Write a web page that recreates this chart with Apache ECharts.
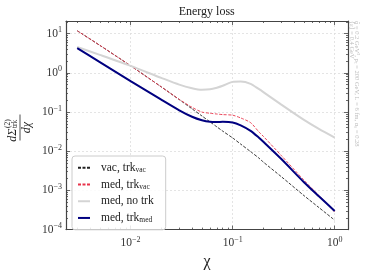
<!DOCTYPE html>
<html><head><meta charset="utf-8">
<script src="https://cdn.jsdelivr.net/npm/echarts@6/dist/echarts.min.js"></script>
<style>html,body{margin:0;padding:0;background:#fff}#c{width:374px;height:275px}</style>
</head><body><div id="c"></div>
<script>
// ---- data ----
const chi        = [0.003, 0.005, 0.01, 0.02, 0.03, 0.04, 0.05, 0.06, 0.07, 0.08, 0.1, 0.12, 0.15, 0.18, 0.2, 0.3, 0.5, 0.7, 1.0];
const vacTrkVac  = [11.9, 5.04, 1.52, 0.439, 0.208, 0.121, 0.0796, 0.0562, 0.042, 0.0326, 0.0219, 0.0152, 0.00977, 0.00676, 0.00528, 0.00224, 0.000738, 0.000366, 0.000174];
const medTrkVac  = [11.9, 5.04, 1.52, 0.439, 0.211, 0.132, 0.100, 0.0933, 0.0891, 0.0861, 0.0832, 0.0708, 0.0537, 0.0316, 0.024, 0.00776, 0.00182, 0.000741, 0.000282];
const medNoTrk   = [4.57, 2.88, 1.51, 0.746, 0.501, 0.407, 0.372, 0.380, 0.417, 0.468, 0.589, 0.603, 0.525, 0.389, 0.324, 0.155, 0.0631, 0.0372, 0.0224];
const medTrkMed  = [4.30, 1.89, 0.617, 0.207, 0.111, 0.0759, 0.0617, 0.0562, 0.0556, 0.0562, 0.0543, 0.0457, 0.0331, 0.0224, 0.0174, 0.00631, 0.00162, 0.000708, 0.000299];
const seriesNames = ['vac, trk_vac', 'med, trk_vac', 'med, no trk', 'med, trk_med'];
const xMajorExp = [-2, -1, 0];
const yMajorExp = [-4, -3, -2, -1, 0, 1];
const xRange = [0.00233, 1.35];
const yRange = [1e-4, 21.1];
const titleText = 'Energy loss';
const xName = 'χ';
const paramLine1 = 'q̂ = 0.2 GeV³, pₜ = 200 GeV, L = 6 fm, αₛ = 0.28';
const paramLine2 = '⟨ε⟩ = 0.4 GeV';

// ---- helpers ----
const L = Math.log10;
const FONT = 'Liberation Serif';
function minorLogs(r) {
  const out = [];
  for (let d = Math.floor(L(r[0])); d <= Math.ceil(L(r[1])); d++) {
    for (let k = 2; k <= 9; k++) {
      const v = k * Math.pow(10, d);
      if (v >= r[0] && v <= r[1]) out.push(L(v));
    }
  }
  return out;
}
const xMinor = minorLogs(xRange), yMinor = minorLogs(yRange);
const AX = '#444';
const pow10Label = v => {
  const e = Math.round(v);
  return '{b|10}{s|' + (e < 0 ? '\u2212' + (-e) : e) + '}';
};
const labelRich = {
  b: {fontFamily: FONT, fontSize: 11.5, color: '#333'},
  s: {fontFamily: FONT, fontSize: 8, color: '#333', padding: [0, 0, 7, 0]}
};
function makeAxis(kind, pos, major, minorVals, range, showLabel) {
  const vals = major ? (kind === 'x' ? xMajorExp : yMajorExp) : minorVals;
  return {
    type: 'value', position: pos, min: L(range[0]), max: L(range[1]), offset: 0,
    axisLine: {show: major, onZero: false, lineStyle: {color: AX, width: 1.2}},
    axisTick: {show: true, inside: true, length: major ? 4 : 2, customValues: vals,
               lineStyle: {color: AX, width: 0.8}},
    axisLabel: {show: showLabel, customValues: vals, formatter: pow10Label, rich: labelRich,
                margin: kind === 'x' ? 6 : 4},
    splitLine: {show: major && showLabel, lineStyle: {color: '#ddd', type: [2, 2], width: 0.8}},
    minorTick: {show: false}, minorSplitLine: {show: false}
  };
}
const xAxes = [
  makeAxis('x', 'bottom', true, null, xRange, true),
  makeAxis('x', 'bottom', false, xMinor, xRange, false),
  makeAxis('x', 'top', true, null, xRange, false),
  makeAxis('x', 'top', false, xMinor, xRange, false)
];
xAxes[0].name = xName;
xAxes[0].nameLocation = 'middle';
xAxes[0].nameGap = 23;
xAxes[0].nameTextStyle = {fontFamily: FONT, fontSize: 16, color: '#222'};
const yAxes = [
  makeAxis('y', 'left', true, null, yRange, true),
  makeAxis('y', 'left', false, yMinor, yRange, false),
  makeAxis('y', 'right', true, null, yRange, false),
  makeAxis('y', 'right', false, yMinor, yRange, false)
];

const values = [vacTrkVac, medTrkVac, medNoTrk, medTrkMed];
const styles = [
  {color: '#222', width: 0.9, type: [3, 1.5]},
  {color: '#e8334a', width: 0.9, type: [3, 1.5]},
  {color: '#d4d4d4', width: 2},
  {color: '#000080', width: 2}
];
const series = values.map((ys, i) => ({
  name: seriesNames[i], type: 'line', xAxisIndex: 0, yAxisIndex: 0,
  showSymbol: false, symbol: 'none', smooth: 0.25,
  lineStyle: styles[i], itemStyle: {color: styles[i].color},
  data: chi.map((x, j) => [L(x), L(ys[j])]), z: 2 + i
}));

const chart = echarts.init(document.getElementById('c'), null, {renderer: 'canvas'});
chart.setOption({
  animation: false,
  grid: {left: 66, right: 26, top: 21, bottom: 41, containLabel: false},
  xAxis: xAxes, yAxis: yAxes,
  legend: {
    orient: 'vertical', left: 72, top: 156, data: seriesNames,
    itemWidth: 12, itemHeight: 8, itemGap: 3,
    padding: [5, 12, 5, 5],
    itemStyle: {opacity: 0},
    backgroundColor: 'rgba(255,255,255,0.85)', borderColor: '#ccc', borderWidth: 1, borderRadius: 3,
    formatter: n => { const p = n.split('_'); return p.length > 1 ? p[0] + '{sub|' + p[1] + '}' : p[0]; },
    textStyle: {fontFamily: FONT, fontSize: 11.5, color: '#222', lineHeight: 13.7, padding: [0, 0, 0, 6],
      rich: {sub: {fontFamily: FONT, fontSize: 7.5, color: '#222', padding: [5, 0, 0, 0]}}}
  },
  graphic: [
    {type: 'text', x: 206.7, y: 12, style: {text: titleText, fontFamily: FONT, fontSize: 12, fill: '#222', align: 'center', verticalAlign: 'middle'}},
    {type: 'group', x: 20, y: 127.5, rotation: Math.PI / 2, children: [
      {type: 'text', x: -1, y: -7.5, style: {text: 'dΣ', fontFamily: FONT, fontStyle: 'italic', fontSize: 12, fill: '#222', align: 'right', verticalAlign: 'middle'}},
      {type: 'text', x: -0.5, y: -12, style: {text: '(2)', fontFamily: FONT, fontSize: 7.5, fill: '#222', align: 'left', verticalAlign: 'middle'}},
      {type: 'text', x: -0.5, y: -4.5, style: {text: 'trk', fontFamily: FONT, fontSize: 7.5, fill: '#222', align: 'left', verticalAlign: 'middle'}},
      {type: 'line', shape: {x1: -13, y1: 0, x2: 13, y2: 0}, style: {stroke: '#222', lineWidth: 0.8}},
      {type: 'text', x: 0, y: 7, style: {text: 'dχ', fontFamily: FONT, fontStyle: 'italic', fontSize: 12, fill: '#222', align: 'center', verticalAlign: 'middle'}}
    ]},
    {type: 'text', x: 360, y: 21, rotation: -Math.PI / 2, style: {text: paramLine1 + '\n' + paramLine2, fontFamily: FONT, fontSize: 6.5, lineHeight: 5.8, fill: '#bbb', align: 'left', verticalAlign: 'top'}}
  ],
  series: series
});
</script></body></html>
